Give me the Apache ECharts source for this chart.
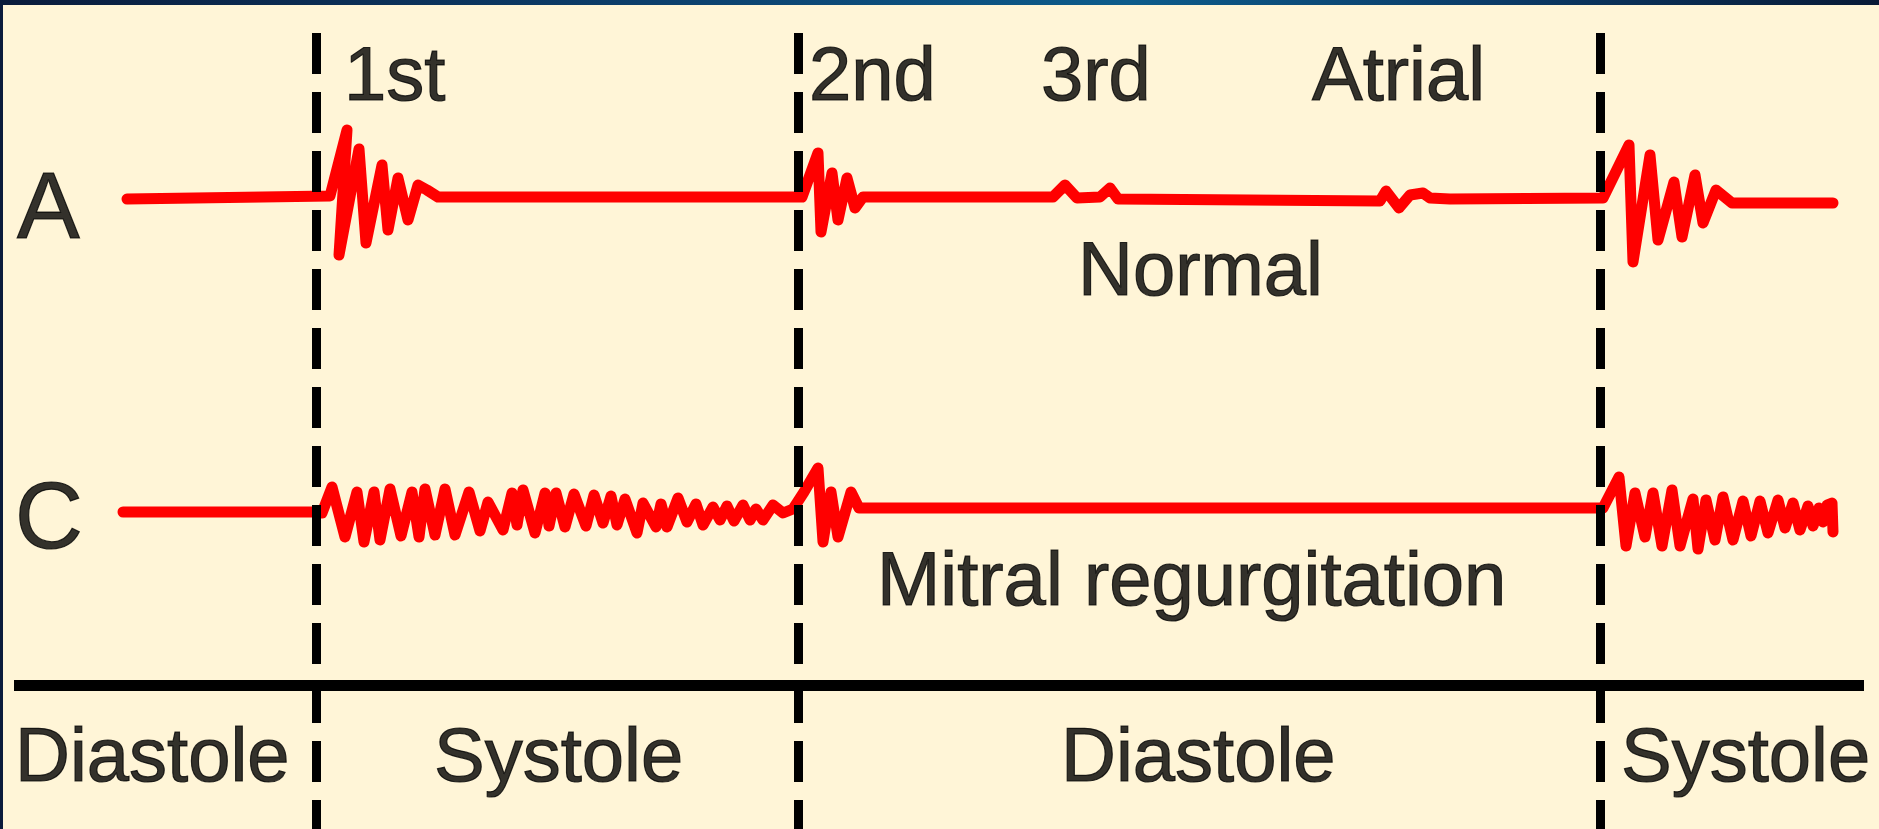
<!DOCTYPE html>
<html lang="en">
<head>
    <meta charset="UTF-8">
    <title>Heart sounds</title>
    <script src="https://cdn.jsdelivr.net/npm/echarts@6.0.0/dist/echarts.min.js"></script>
    <style>
        html, body {margin:0; padding:0; background:#0a1c3c;}
        #wrap {position:relative; width:1879px; height:829px; overflow:hidden;
               background:linear-gradient(90deg, #0a1b3b 0%, #0c3f6c 35%, #0d5c8b 60%, #0b3a66 80%, #081a36 100%);}
        #paper {position:absolute; left:3px; top:5px; right:0; bottom:0; background:#fff5d7;}
        #main {position:absolute; left:0; top:0; width:1879px; height:829px;}
    </style>
</head>
<body>
<div id="wrap">
    <div id="paper"></div>
    <div id="main"></div>
</div>
<script>
    // time (x) and amplitude above baseline (y)
    var normalTrace = [
        [127, -2], [330, 1],
        // 1st sound
        [347, 67], [339, -58], [359, 48], [366, -46], [382, 32], [388, -33],
        [398, 19], [408, -23], [418, 12], [427, 7], [438, 0], [802, 0],
        // 2nd sound
        [818, 44], [821, -35], [832, 24], [838, -23], [847, 19], [855, -11], [863, 0],
        // 3rd sound
        [1053, 0], [1065, 12], [1077, -1], [1100, 0], [1110, 9], [1118, -2],
        // atrial sound
        [1380, -4], [1386, 6], [1399, -11], [1410, 2], [1423, 4], [1430, -1], [1450, -2],
        // next 1st sound
        [1603, -1], [1629, 52], [1633, -65], [1650, 42], [1658, -43], [1674, 15],
        [1682, -40], [1695, 22], [1703, -26], [1716, 7], [1732, -6], [1833, -6]
    ];

    var mitralTrace = [
        [123, -2], [316, -2], [322, -3],
        // holosystolic murmur
        [332, 23], [345, -27], [357, 18], [364, -32], [374, 18], [380, -30],
        [390, 21], [401, -26], [412, 18], [419, -27], [425, 21], [435, -25],
        [445, 21], [455, -25], [469, 18], [480, -21], [488, 8], [503, -20],
        [512, 17], [517, -15], [523, 20], [535, -23], [545, 17], [549, -16],
        [556, 17], [565, -17], [574, 16], [586, -16], [594, 15], [603, -13],
        [611, 14], [617, -15], [625, 11], [637, -23], [643, 7], [656, -17],
        [661, 6], [667, -17], [678, 12], [687, -12], [696, 6], [703, -15],
        [713, 3], [720, -10], [727, 4], [734, -11], [743, 5], [750, -10],
        [756, 1], [763, -10], [773, 5], [783, -3], [793, 1],
        // 2nd sound
        [804, 18], [818, 42], [823, -32], [831, 18], [838, -27], [851, 18], [859, 2],
        [1596, 2], [1603, 2],
        // next systole
        [1619, 33], [1626, -36], [1635, 17], [1645, -27], [1653, 17], [1662, -36],
        [1672, 20], [1680, -36], [1693, 11], [1698, -39], [1706, 10], [1715, -30],
        [1723, 13], [1733, -30], [1743, 9], [1751, -26], [1760, 9], [1768, -23],
        [1778, 10], [1785, -18], [1793, 7], [1800, -20], [1808, 4], [1813, -16],
        [1819, 2], [1823, -12], [1827, 5], [1832, 7], [1833, -22]
    ];

    // heart sound onsets (dashed markers)
    var soundOnsets = [316, 798, 1600];

    // [text, x, y, size]
    var labels = [
        ['A', 17, 212, 94],
        ['C', 15, 522, 94],
        ['1st', 344, 79, 76],
        ['2nd', 809, 79, 76],
        ['3rd', 1041, 79, 76],
        ['Atrial', 1312, 79, 76],
        ['Normal', 1078, 274, 76],
        ['Mitral regurgitation', 877, 584, 76],
        ['Diastole', 15, 760, 76],
        ['Systole', 434, 760, 76],
        ['Diastole', 1061, 760, 76],
        ['Systole', 1621, 760, 76]
    ];

    var chart = echarts.init(document.getElementById('main'));

    var dashed = soundOnsets.map(function (t) {
        return [{coord: [t, 33]}, {coord: [t, 829]}];
    });

    function trace(name, idx, data) {
        return {
            name: name, type: 'line', xAxisIndex: idx, yAxisIndex: idx,
            symbol: 'none', showSymbol: false, clip: false, z: 2,
            lineStyle: {color: '#ff0000', width: 11, cap: 'round', join: 'round'},
            emphasis: {disabled: true},
            data: data
        };
    }

    chart.setOption({
        animation: false,
        backgroundColor: 'transparent',
        grid: [
            {left: 0, right: 0, top: 97, height: 200},
            {left: 0, right: 0, top: 410, height: 200},
            {left: 0, right: 0, top: 0, bottom: 0}
        ],
        xAxis: [
            {gridIndex: 0, type: 'value', min: 0, max: 1879, show: false},
            {gridIndex: 1, type: 'value', min: 0, max: 1879, show: false},
            {gridIndex: 2, type: 'value', min: 0, max: 1879, show: false}
        ],
        yAxis: [
            {gridIndex: 0, type: 'value', min: -100, max: 100, show: false},
            {gridIndex: 1, type: 'value', min: -100, max: 100, show: false},
            {gridIndex: 2, type: 'value', min: 0, max: 829, inverse: true, show: false}
        ],
        series: [
            trace('Normal', 0, normalTrace),
            trace('Mitral regurgitation', 1, mitralTrace),
            {
                // phase markers + labels
                type: 'scatter', xAxisIndex: 2, yAxisIndex: 2, z: 5,
                symbolSize: 0, silent: true,
                data: labels.map(function (l) {
                    return {
                        name: l[0], value: [l[1], l[2]],
                        label: {fontSize: l[3], color: '#000'}
                    };
                }),
                label: {
                    show: true, formatter: '{b}', position: [0, 0],
                    align: 'left', verticalAlign: 'middle',
                    color: '#000', textBorderColor: '#000', textBorderWidth: 1.2,
                    fontFamily: 'Liberation Sans, Arial, sans-serif'
                },
                markLine: {
                    silent: true, symbol: ['none', 'none'],
                    label: {show: false},
                    data: dashed.concat([[{coord: [14, 685], lineStyle: {type: 'solid', width: 11}},
                                          {coord: [1864, 685]}]]),
                    lineStyle: {color: '#000', width: 9, type: [41, 18], cap: 'butt'}
                }
            }
        ]
    });
</script>
</body>
</html>
